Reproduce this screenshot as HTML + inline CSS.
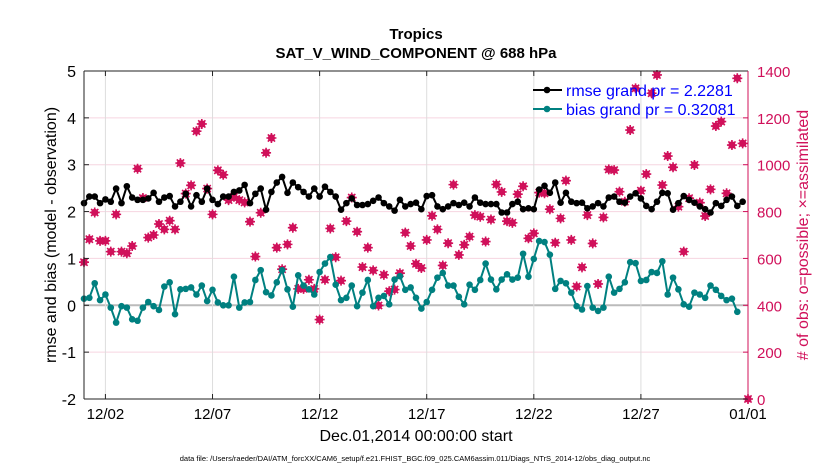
<!DOCTYPE html>
<html><head><meta charset="utf-8"><style>
body{margin:0;background:#fff;}
svg{display:block;font-family:"Liberation Sans",Arial,sans-serif;}
</style></head><body>
<svg id="chart" width="830" height="470" viewBox="0 0 830 470" xmlns="http://www.w3.org/2000/svg">
<text x="416" y="39" text-anchor="middle" font-size="15" font-weight="bold">Tropics</text>
<text x="416" y="58" text-anchor="middle" font-size="15" font-weight="bold">SAT_V_WIND_COMPONENT @ 688 hPa</text>
<g id="grid"></g>
<g id="marks"></g>
<g id="axes"></g>
<text transform="translate(56,235) rotate(-90)" text-anchor="middle" font-size="16">rmse and bias (model - observation)</text>
<text transform="translate(808,235) rotate(-90)" text-anchor="middle" font-size="16" fill="#d0105a"># of obs: o=possible; ×=assimilated</text>
<text x="416" y="441" text-anchor="middle" font-size="16">Dec.01,2014 00:00:00 start</text>
<text x="415" y="461" text-anchor="middle" font-size="7.5">data file: /Users/raeder/DAI/ATM_forcXX/CAM6_setup/f.e21.FHIST_BGC.f09_025.CAM6assim.011/Diags_NTrS_2014-12/obs_diag_output.nc</text>
<g>
<line x1="533" y1="90" x2="562" y2="90" stroke="#000" stroke-width="2"/>
<circle cx="547" cy="90" r="3.3" fill="#000"/>
<text x="566" y="96" font-size="16" fill="#0000ff">rmse grand pr = 2.2281</text>
<line x1="533" y1="109" x2="562" y2="109" stroke="#008080" stroke-width="2"/>
<circle cx="547" cy="109" r="3.3" fill="#008080"/>
<text x="566" y="115" font-size="16" fill="#0000ff">bias grand pr = 0.32081</text>
</g>
</svg>
<script>
const rmse = [2.18,2.32,2.32,2.18,2.26,2.21,2.49,2.18,2.54,2.30,2.25,2.25,2.28,2.40,2.21,2.30,2.33,2.11,2.21,2.38,2.11,2.35,2.21,2.49,2.25,2.16,2.32,2.32,2.42,2.45,2.57,2.18,2.38,2.49,2.04,2.42,2.62,2.74,2.40,2.62,2.52,2.42,2.32,
2.49,2.32,2.53,2.42,2.32,2.04,2.18,2.28,2.14,2.14,2.16,2.23,2.30,2.18,2.11,2.02,2.25,2.11,2.16,2.19,2.05,2.33,2.35,2.11,2.05,2.11,2.18,2.14,2.19,2.11,2.30,2.19,2.16,2.16,2.16,1.98,1.98,2.16,2.21,2.05,2.07,2.05,2.47,
2.55,2.40,2.62,2.19,2.40,2.21,2.18,2.19,2.07,2.11,2.18,2.11,2.30,2.32,2.21,2.19,2.32,2.39,2.28,2.12,2.05,2.21,2.40,2.39,2.04,2.18,2.33,2.25,2.19,2.11,2.05,1.98,2.18,2.12,2.25,2.32,2.12,2.21];
const bias = [0.14,0.16,0.47,0.11,0.23,-0.05,-0.37,-0.02,-0.05,-0.30,-0.33,-0.05,0.07,-0.02,-0.10,0.40,0.49,-0.19,0.34,0.35,0.38,0.23,0.42,0.09,0.33,0.06,0.00,0.00,0.61,-0.05,0.06,0.07,0.54,0.75,0.28,0.21,0.49,0.75,0.34,-0.03,0.64,0.42,0.34,0.23,
0.71,0.89,1.03,0.44,0.11,0.16,0.42,-0.02,0.27,0.54,-0.02,0.16,0.20,0.02,0.55,0.62,0.33,0.38,0.16,-0.07,0.07,0.33,0.59,0.69,0.42,0.42,0.18,0.02,0.44,0.33,0.54,0.89,0.55,0.34,0.55,0.66,0.55,0.59,1.10,0.61,0.99,
1.37,1.35,1.08,0.35,0.52,0.47,0.27,-0.02,-0.09,0.41,-0.05,-0.12,-0.05,0.61,0.27,0.35,0.49,0.92,0.90,0.52,0.54,0.71,0.69,0.94,0.23,0.59,0.34,0.02,-0.03,0.27,0.23,0.16,0.42,0.33,0.20,0.11,0.14,-0.14];
const obsCount = [584,682,796,675,675,629,788,629,622,653,983,858,689,700,747,724,761,724,1007,877,912,1143,1174,898,788,976,957,849,863,849,839,757,608,795,1051,1114,646,554,660,731,470,470,509,470,
339,509,728,605,505,759,860,714,563,646,549,399,530,460,467,537,710,653,577,559,679,782,724,570,665,915,615,658,693,785,778,672,766,916,884,759,752,874,908,686,707,881,
878,810,667,771,932,679,480,562,785,664,491,775,980,977,885,842,1148,1326,889,960,1305,1383,913,1037,989,821,629,857,999,838,781,895,1165,1184,878,1084,1369,1091,0];
const leftTicks = [-2,-1,0,1,2,3,4,5];
const rightTicks = [0,200,400,600,800,1000,1200,1400];
const dateTickDays = [2,7,12,17,22,27,32];
const dateTickLabels = ["12/02","12/07","12/12","12/17","12/22","12/27","01/01"];

const L=84,R=748,T=71,B=399;
const xDay = d => L + (d-1)*(R-L)/31;
const xIdx = i => xDay(1 + i*0.25);
const yL = v => B - (v+2)*(B-T)/7;
const yR = v => B - v*(B-T)/1400;
const NS="http://www.w3.org/2000/svg";
function mk(tag, attrs, parent){const e=document.createElementNS(NS,tag);for(const k in attrs)e.setAttribute(k,attrs[k]);parent.appendChild(e);return e;}
const grid=document.getElementById('grid'), marks=document.getElementById('marks'), axes=document.getElementById('axes');

leftTicks.forEach((t)=>{
  const g=mk('line',{x1:L,x2:R,y1:yL(t),y2:yL(t),stroke:t===0?'#bbbbbb':'#f6d5e0','stroke-width':t===0?2:1},grid);
  
  
  const tx=mk('text',{x:L-8,y:yL(t)+6,'text-anchor':'end','font-size':16},axes);
  
  
  tx.textContent=t;
  mk('line',{x1:L,x2:L+5,y1:yL(t),y2:yL(t),stroke:'#222'},axes);
});
rightTicks.forEach((t)=>{
  const tx=mk('text',{x:R+9,y:yR(t)+6,'font-size':15,fill:'#d0105a'},axes);
  
  
  tx.textContent=t;
  mk('line',{x1:R-5,x2:R,y1:yR(t),y2:yR(t),stroke:'#d0105a'},axes);
});
dateTickDays.forEach((d,k)=>{
  const x=xDay(d);
  const g=mk('line',{x1:x,x2:x,y1:T,y2:B,stroke:'#dddddd'},grid);
  
  
  mk('line',{x1:x,x2:x,y1:B,y2:B-5,stroke:'#222'},axes);
  mk('line',{x1:x,x2:x,y1:T,y2:T+5,stroke:'#222'},axes);
  const tx=mk('text',{x:x,y:B+20,'text-anchor':'middle','font-size':15},axes);
  
  
  tx.textContent=dateTickLabels[k];
});
mk('line',{x1:L,x2:R,y1:B,y2:B,stroke:'#222'},axes);
mk('line',{x1:L,x2:R,y1:T,y2:T,stroke:'#222'},axes);
mk('line',{x1:L,x2:L,y1:T,y2:B,stroke:'#222'},axes);
mk('line',{x1:R,x2:R,y1:T,y2:B,stroke:'#d0105a'},axes);

obsCount.forEach((c,i)=>{
  const x=xIdx(i), y=yR(c);
  const g=mk('g',{},marks);
  
  
  mk('circle',{cx:x,cy:y,r:3.6,fill:'#d0105a'},g);
  mk('path',{d:`M${x-5} ${y}H${x+5}M${x} ${y-5}V${y+5}M${x-3.6} ${y-3.6}L${x+3.6} ${y+3.6}M${x-3.6} ${y+3.6}L${x+3.6} ${y-3.6}`,stroke:'#d0105a','stroke-width':1.6},g);
});
function series(vals,color,name){
  const p=mk('polyline',{points:vals.map((v,i)=>xIdx(i)+','+yL(v)).join(' '),fill:'none',stroke:color,'stroke-width':2},marks);
  
  
  vals.forEach((v,i)=>{
    const c=mk('circle',{cx:xIdx(i),cy:yL(v),r:3.3,fill:color},marks);
    
    
  });
}
series(rmse,'#000000','rmse');
series(bias,'#008080','bias');
</script>
</body></html>
